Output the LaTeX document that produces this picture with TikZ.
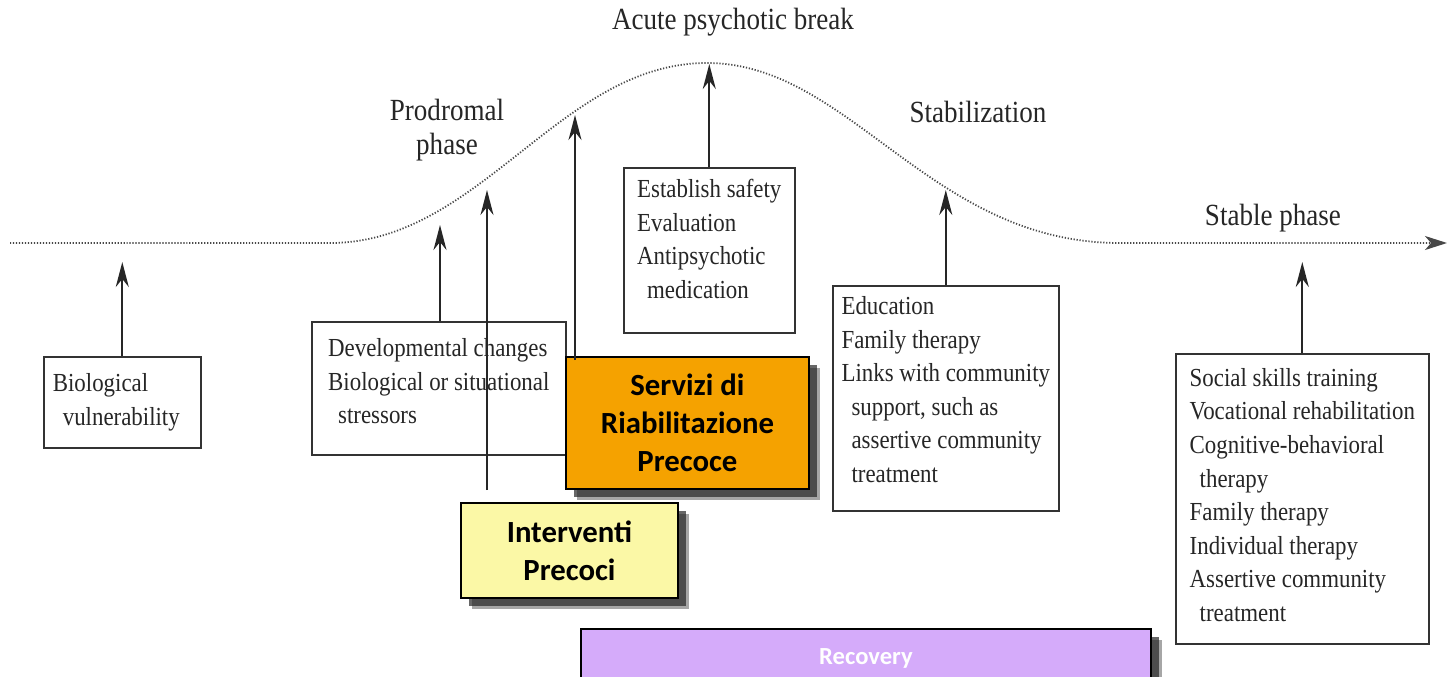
\documentclass[tikz,border=0pt]{standalone}
\usepackage{fontspec}
\setmainfont{Liberation Serif}[FakeStretch=0.88]
\newfontfamily\calib{Carlito}
\usepackage{tikz}
\usetikzlibrary{arrows.meta,calc,shadows}
\definecolor{orangeS}{HTML}{F5A200}
\definecolor{yellowI}{HTML}{FBF8A6}
\definecolor{lilacR}{HTML}{D5ABFA}
\definecolor{dotgray}{HTML}{484848}
\newcommand{\ind}{\hspace*{2mm}}

\begin{document}
\begin{tikzpicture}[
  x=0.2mm, y=-0.2mm,
  lbl/.style={font=\fontsize{17.5}{19.3}\selectfont, text=black!85, align=center, inner sep=0pt},
  tbox/.style={draw=black!80, line width=0.9pt, fill=white, anchor=north west, inner sep=0pt, align=left, font=\fontsize{14.8}{19.1}\selectfont, text=black!85},
  cbox/.style={draw=black, line width=1.1pt, anchor=north west, align=center, inner sep=0pt, font=\calib\bfseries\fontsize{17.5}{21.5}\selectfont,
    drop shadow={shadow xshift=2.2mm, shadow yshift=-2.2mm, fill=black, opacity=.35},
    drop shadow={shadow xshift=1.6mm, shadow yshift=-1.6mm, fill=black!85, opacity=.7}},
  upar/.style={draw=black!85, line width=1.1pt, -{Stealth[length=5mm,width=2.6mm,inset=1.6mm]}}
]
\useasboundingbox (0,0) rectangle (1449,676);
\clip (0,0) rectangle (1449,676);

% course of the illness
\draw[dotgray, line width=1pt, dash pattern=on 0.7pt off 1pt, -{Stealth[length=4.4mm,width=2.8mm,inset=1.2mm]}]
  (10,243) -- (330,243) .. controls (480,243) and (560,63) .. (707,63)
  .. controls (850,63) and (930,243) .. (1120,243) -- (1447,243);
\coordinate (cbio) at (123,262);
\coordinate (cpro) at (440,225);
\coordinate (cint) at (487,190);
\coordinate (cserv) at (575,115);
\coordinate (cacute) at (707,64);
\coordinate (cstab) at (945,190);
\coordinate (cstable) at (1302,262);

% phases
\node[lbl] (acute) at (733,22) {Acute psychotic break};
\node[lbl] (prodr) at (447,130) {Prodromal\\phase};
\node[lbl] (stabz) at (978,112) {Stabilization};
\node[lbl] (stablep) at (1273,218) {Stable phase};

% interventions
\node[tbox, minimum width=31.4mm, minimum height=18.2mm] (biol) at (43,356)
  {Biological\hspace*{8.5mm}\\\ind vulnerability\hspace*{2.4mm}};
\node[tbox, minimum width=50.8mm, minimum height=26.6mm, text depth=8pt] (devel) at (311,321)
  {Developmental changes\\Biological or situational\\\ind stressors};
\node[tbox, minimum width=34.2mm, minimum height=33mm, text depth=13pt] (estab) at (623,167)
  {Establish safety\\Evaluation\\Antipsychotic\\\ind medication};
\node[tbox, minimum width=45.2mm, minimum height=45mm, text depth=10pt] (educ) at (832,285)
  {Education\\Family therapy\\Links with community\\\ind support, such as\\\ind assertive community\\\ind treatment};
\node[tbox, minimum width=50.6mm, minimum height=58mm, text depth=4.5pt] (stable) at (1175,353)
  {Social skills training\\Vocational rehabilitation\\Cognitive-behavioral\\\ind therapy\\Family therapy\\Individual therapy\\Assertive community\\\ind treatment};

\draw[upar] (biol.north) -- (biol.north |- cbio);
\draw[upar] (devel.north -| cpro) -- (cpro);
\draw[upar] (estab.north) -- (estab.north |- cacute);
\draw[upar] (educ.north) -- (educ.north |- cstab);
\draw[upar] (stable.north) -- (stable.north |- cstable);

% early services
\node[cbox, fill=orangeS, minimum width=48.6mm, minimum height=26.4mm] (serv) at (565,356)
  {Servizi di\\Riabilitazione\\Precoce};
\node[cbox, fill=yellowI, minimum width=43.4mm, minimum height=19mm] (interv) at (460,502)
  {Interventi\\Precoci};
\node[cbox, fill=lilacR, minimum width=114mm, minimum height=11.6mm, text=white, font=\calib\bfseries\fontsize{14}{17}\selectfont] (recov) at (580,628)
  {Recovery};

\coordinate (ilow) at (487,490);
\coordinate (slow) at (575,360);
\draw[upar] (ilow) -- (cint);
\draw[upar] (slow) -- (cserv);
\end{tikzpicture}
\end{document}
